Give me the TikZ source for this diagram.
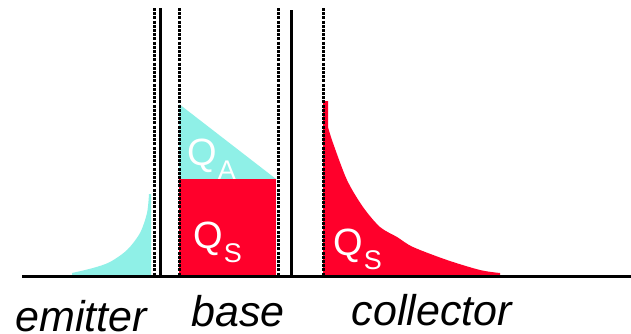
\documentclass[tikz,border=0pt]{standalone}
\usepackage{fontspec}
\setmainfont{Liberation Sans}
\definecolor{cyanfill}{RGB}{143,240,231}
\definecolor{redfill}{RGB}{255,0,43}
\tikzset{
  solidline/.style={line width=3pt, black},
  dashline/.style={line width=3pt, black, dash pattern=on 3pt off 1.2pt},
  region/.style={font=\fontsize{43}{43}\selectfont\itshape, anchor=base, inner sep=0pt},
  qlabel/.style={text=white, inner sep=0pt, anchor=base west},
}
\newcommand{\Qsub}[1]{\fontsize{38}{38}\selectfont Q\kern1pt\raisebox{-14pt}{\fontsize{27}{27}\selectfont #1}}
\begin{document}
\begin{tikzpicture}[x=1pt,y=-1pt]
\useasboundingbox (0,0) rectangle (631,333);
\fill[white] (0,0) rectangle (631,333);
% emitter charge
\fill[cyanfill] (72,276) -- (72,273)
  -- plot[smooth] coordinates {(72,273) (93,268) (110,262) (127,250) (140,233) (147,213) (149,194)}
  -- (151,194) -- (151,276) -- cycle;
% base charges
\fill[cyanfill] (179,104) -- (276,179) -- (179,179) -- cycle;
\fill[redfill] (179,179) rectangle (276,276);
% collector charge
\fill[redfill] (323,276) -- (323,101) -- (328,101) -- (328,127)
  -- plot[smooth] coordinates {(328,127) (333,143) (347,180) (363,207) (380,227) (397,237) (413,247) (447,260) (480,270) (500,273)}
  -- (500,276) -- cycle;
% boundary lines
\coordinate (e1t) at (154,8); \coordinate (e1b) at (154,276);
\coordinate (s1t) at (160,8); \coordinate (s1b) at (160,276);
\coordinate (b1t) at (179,8); \coordinate (b1b) at (179,276);
\coordinate (b2t) at (278,8); \coordinate (b2b) at (278,276);
\coordinate (s2t) at (291,10); \coordinate (s2b) at (291,276);
\coordinate (c1t) at (323,8); \coordinate (c1b) at (323,276);
\draw[dashline] (e1t) -- (e1b);
\draw[solidline] (s1t) -- (s1b);
\draw[dashline] (b1t) -- (b1b);
\draw[dashline] (b2t) -- (b2b);
\draw[solidline] (s2t) -- (s2b);
\draw[dashline] (c1t) -- (c1b);
% axis
\coordinate (axl) at (22,276); \coordinate (axr) at (631,276);
\draw[line width=3pt] (axl) -- (axr);
% labels
\node[qlabel] (qa) at (187,165) {\Qsub{A}};
\node[qlabel] (qs1) at (193,248) {\Qsub{S}};
\node[qlabel] (qs2) at (333,255) {\Qsub{S}};
\node[region] (em) at (81,331) {emitter};
\node[region] (ba) at (238,326) {base};
\node[region] (co) at (432,325) {collector};
\end{tikzpicture}
\end{document}
